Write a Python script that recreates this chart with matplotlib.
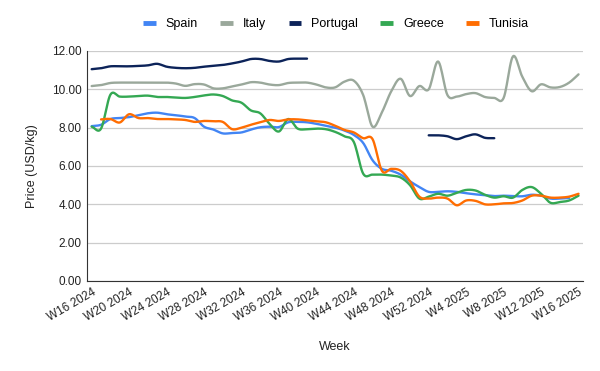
import numpy as np
import matplotlib
matplotlib.use('Agg')
import matplotlib.pyplot as plt

plt.rcParams['font.family'] = ['Liberation Sans', 'DejaVu Sans']

# Weekly categories, W16 2024 .. W16 2025
weeks = [f'W{w} 2024' for w in range(16, 53)] + [f'W{w} 2025' for w in range(1, 17)]
nan = np.nan

spain = [8.08, 8.15, 8.45, 8.5, 8.55, 8.65, 8.75, 8.78, 8.7, 8.65,
         8.58, 8.5, 8.05, 7.9, 7.7, 7.72, 7.75, 7.9, 8.02, 8.05,
         8.03, 8.28, 8.3, 8.28, 8.2, 8.1, 8.0, 7.85, 7.62, 7.2,
         6.3, 5.85, 5.75, 5.55, 5.2, 4.9, 4.65, 4.65, 4.68, 4.65,
         4.58, 4.52, 4.48, 4.43, 4.45, 4.43, 4.42, 4.5, 4.45, 4.3,
         4.3, 4.33, nan]
italy = [10.17, 10.22, 10.33, 10.35, 10.35, 10.35, 10.35, 10.35, 10.35, 10.3,
         10.18, 10.27, 10.25, 10.05, 10.05, 10.15, 10.25, 10.37, 10.35, 10.25,
         10.22, 10.33, 10.35, 10.35, 10.25, 10.1, 10.1, 10.4, 10.45, 9.7,
         8.05, 8.8, 9.9, 10.55, 9.65, 10.17, 10.0, 11.45, 9.7, 9.62,
         9.75, 9.8, 9.6, 9.55, 9.55, 11.72, 10.65, 9.9, 10.26, 10.1,
         10.12, 10.35, 10.78]
portugal = [11.05, 11.1, 11.2, 11.2, 11.2, 11.22, 11.25, 11.33, 11.18, 11.12,
            11.1, 11.12, 11.18, 11.22, 11.27, 11.35, 11.45, 11.58, 11.58, 11.48,
            11.45, 11.58, 11.6, 11.6, nan, nan, nan, nan, nan, nan,
            nan, nan, nan, nan, nan, nan, 7.6, 7.6, 7.55, 7.4,
            7.55, 7.65, 7.47, 7.45, nan, nan, nan, nan, nan, nan,
            nan, nan, nan]
greece = [8.05, 7.95, 9.72, 9.62, 9.62, 9.65, 9.67, 9.6, 9.6, 9.57,
          9.55, 9.6, 9.68, 9.73, 9.65, 9.42, 9.3, 8.9, 8.75, 8.2,
          7.8, 8.45, 7.95, 7.92, 7.95, 7.92, 7.78, 7.55, 7.25, 5.6,
          5.55, 5.55, 5.5, 5.4, 5.0, 4.3, 4.4, 4.55, 4.45, 4.6,
          4.75, 4.72, 4.5, 4.35, 4.42, 4.35, 4.75, 4.9, 4.55, 4.08,
          4.12, 4.2, 4.45]
tunisia = [nan, 8.43, 8.45, 8.27, 8.7, 8.5, 8.5, 8.45, 8.45, 8.43,
           8.4, 8.3, 8.35, 8.33, 8.3, 7.92, 8.0, 8.15, 8.28, 8.4,
           8.35, 8.43, 8.43, 8.38, 8.33, 8.28, 8.1, 7.88, 7.75, 7.45,
           7.4, 5.75, 5.85, 5.75, 5.2, 4.4, 4.3, 4.35, 4.3, 3.95,
           4.2, 4.18, 4.0, 4.0, 4.05, 4.07, 4.2, 4.45, 4.45, 4.35,
           4.35, 4.4, 4.55]

series = [('Spain', spain, '#4285f4'),
          ('Italy', italy, '#9aa89b'),
          ('Portugal', portugal, '#0c2359'),
          ('Greece', greece, '#34a853'),
          ('Tunisia', tunisia, '#ff6d01')]


def smooth(x, y, n=12):
    # Catmull-Rom through each unbroken run of points
    x = np.asarray(x, float)
    y = np.asarray(y, float)
    xs, ys = [], []
    ok = ~np.isnan(y)
    i = 0
    while i < len(y):
        if not ok[i]:
            i += 1
            continue
        j = i
        while j < len(y) and ok[j]:
            j += 1
        px, py = x[i:j], y[i:j]
        if len(px) > 1:
            px2 = np.r_[2 * px[0] - px[1], px, 2 * px[-1] - px[-2]]
            py2 = np.r_[2 * py[0] - py[1], py, 2 * py[-1] - py[-2]]
            t = np.linspace(0, 1, n, endpoint=False)
            for k in range(1, len(px2) - 2):
                for arr, out in ((px2, xs), (py2, ys)):
                    p0, p1, p2, p3 = arr[k - 1:k + 3]
                    out.extend(0.5 * ((2 * p1) + (-p0 + p2) * t
                                      + (2 * p0 - 5 * p1 + 4 * p2 - p3) * t ** 2
                                      + (-p0 + 3 * p1 - 3 * p2 + p3) * t ** 3))
            xs.append(px[-1])
            ys.append(py[-1])
        xs.append(nan)
        ys.append(nan)
        i = j
    return np.array(xs), np.array(ys)


fig = plt.figure(figsize=(6, 3.71), dpi=100)
ax = fig.add_axes([0.145, 0.2426, 0.827, 0.62])

x = np.arange(len(weeks))
for name, vals, color in series:
    sx, sy = smooth(x, vals)
    ax.plot(sx, sy, color=color, lw=1.7, label=name, solid_capstyle='round')

ax.set_xlim(-0.5, len(weeks) - 0.5)
ax.set_ylim(0, 12)
ax.set_yticks(np.arange(0, 13, 2))
ax.set_yticklabels([f'{v:.2f}' for v in np.arange(0, 13, 2)], fontsize=8.5, color='#222222')
ax.set_xticks(x[::4])
ax.set_xticklabels(weeks[::4], rotation=30, ha='right', rotation_mode='anchor',
                   fontsize=8.5, color='#222222')
ax.tick_params(length=0, pad=4)
ax.grid(axis='y', color='#cccccc', lw=0.9)
ax.set_axisbelow(True)
for s in ['top', 'right']:
    ax.spines[s].set_visible(False)
ax.spines['left'].set_color('#333333')
ax.spines['bottom'].set_color('#333333')

ax.set_ylabel('Price (USD/kg)', fontsize=9, color='#222222', labelpad=10)
ax.set_xlabel('Week', fontsize=9, color='#222222', labelpad=12)

fig.legend(loc='center', bbox_to_anchor=(0.56, 0.935), ncol=5, frameon=False,
           fontsize=9, handlelength=1.0, handletextpad=0.8, columnspacing=1.8)
for h in fig.legends[0].get_lines():
    h.set_linewidth(3.5)
    h.set_solid_capstyle('butt')

fig.savefig('out.png', dpi=100)
